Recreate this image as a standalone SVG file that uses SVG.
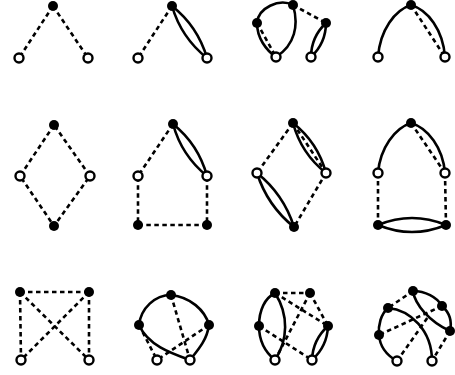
<svg xmlns="http://www.w3.org/2000/svg" width="455" height="375" viewBox="0 0 455 375">
<style>
.s{fill:none;stroke:#000;stroke-width:2.6}
.d{fill:none;stroke:#000;stroke-width:2.6;stroke-dasharray:4.5 3.5}
.b{fill:#000}
.o{fill:#fff;stroke:#000;stroke-width:2.4}
</style>
<rect width="455" height="375" fill="#fff"/>
<g id="connectors">
<path class="d" d="M53,6L19,58M53,6L88,58"/>
<path class="d" d="M172,6L138,58"/>
<path class="s" d="M172,6Q197.8,26.4 207,58M172,6Q181.2,37.6 207,58"/>
<path class="s" d="M293,5C279,-2 258,8 257,23M257,23C257,38 266,50 276,57M293,5C299,25 295,45 276,57"/>
<path class="d" d="M257,23L276,57M293,5L326,23"/>
<path class="s" d="M326,23Q325.8,43.2 311,57M326,23Q311.2,36.8 311,57"/>
<path class="s" d="M411,5C395,10 380,30 378,57M411,5C428,10 443,30 445,57"/>
<path class="d" d="M411,5L445,57"/>
<path class="d" d="M54,125L20,176L54,226L90,176Z"/>
<path class="d" d="M173,124L138,176L138,225L207,225L207,176"/>
<path class="s" d="M173,124Q198.4,144.5 207,176M173,124Q181.6,155.5 207,176"/>
<path class="d" d="M293,123L257,173M326,173L294,227M293,123L326,173"/>
<path class="s" d="M293,123Q317.8,142.5 326,173M293,123Q301.2,153.5 326,173"/>
<path class="s" d="M257,173Q283.7,194.4 294,227M257,173Q267.3,205.6 294,227"/>
<path class="s" d="M411,123C395,128 380,148 378,173M411,123C428,128 443,148 445,173"/>
<path class="d" d="M411,123L445,173M378,173L378,225M445,173L446,225"/>
<path class="s" d="M378,225Q412,211 446,225M378,225Q412,239 446,225"/>
<path class="d" d="M20,292L89,292M20,292L21,360M89,292L89,360M20,292L89,360M89,292L21,360"/>
<path class="s" d="M171,295C155,295 141,308 139,325M171,295C190,297 205,310 209,325M139,325C148,345 170,353 190,360M209,325C207,340 198,350 190,360"/>
<path class="d" d="M139,325L157,360M171,295L190,360M209,325L157,360"/>
<path class="s" d="M275,293C265,298 259,310 259,326M259,326C259,342 265,352 275,360M275,293C289,315 288,340 275,360"/>
<path class="d" d="M275,293L310,293M275,293L328,326M310,293L328,326M310,293L275,360M259,326L312,360"/>
<path class="s" d="M328,326Q327.2,346.4 312,360M328,326Q312.8,339.6 312,360"/>
<path class="s" d="M413,291C425,291 437,297 442,306M442,306C450,313 452,322 450,331M413,291C415,305 430,322 450,331"/>
<path class="s" d="M388,308C381,314 378,325 379,335M379,335C380,348 388,356 397,361M388,308C410,310 432,330 432,361"/>
<path class="d" d="M413,291L388,308M442,306L379,335M450,331L432,361M397,361L428,317"/>
</g>
<g id="n1a"><circle class="b" cx="53" cy="6" r="5"/></g>
<g id="n1b"><circle class="o" cx="19" cy="58" r="4.5"/></g>
<g id="n1c"><circle class="o" cx="88" cy="58" r="4.5"/></g>
<g id="n2a"><circle class="b" cx="172" cy="6" r="5"/></g>
<g id="n2b"><circle class="o" cx="138" cy="58" r="4.5"/></g>
<g id="n2c"><circle class="o" cx="207" cy="58" r="4.5"/></g>
<g id="n3a"><circle class="b" cx="293" cy="5" r="5"/></g>
<g id="n3b"><circle class="b" cx="257" cy="23" r="5"/></g>
<g id="n3c"><circle class="b" cx="326" cy="23" r="5"/></g>
<g id="n3d"><circle class="o" cx="276" cy="57" r="4.5"/></g>
<g id="n3e"><circle class="o" cx="311" cy="57" r="4.5"/></g>
<g id="n4a"><circle class="b" cx="411" cy="5" r="5"/></g>
<g id="n4b"><circle class="o" cx="378" cy="57" r="4.5"/></g>
<g id="n4c"><circle class="o" cx="445" cy="57" r="4.5"/></g>
<g id="n5a"><circle class="b" cx="54" cy="125" r="5"/></g>
<g id="n5b"><circle class="o" cx="20" cy="176" r="4.5"/></g>
<g id="n5c"><circle class="o" cx="90" cy="176" r="4.5"/></g>
<g id="n5d"><circle class="b" cx="54" cy="226" r="5"/></g>
<g id="n6a"><circle class="b" cx="173" cy="124" r="5"/></g>
<g id="n6b"><circle class="o" cx="138" cy="176" r="4.5"/></g>
<g id="n6c"><circle class="o" cx="207" cy="176" r="4.5"/></g>
<g id="n6d"><circle class="b" cx="138" cy="225" r="5"/></g>
<g id="n6e"><circle class="b" cx="207" cy="225" r="5"/></g>
<g id="n7a"><circle class="b" cx="293" cy="123" r="5"/></g>
<g id="n7b"><circle class="o" cx="257" cy="173" r="4.5"/></g>
<g id="n7c"><circle class="o" cx="326" cy="173" r="4.5"/></g>
<g id="n7d"><circle class="b" cx="294" cy="227" r="5"/></g>
<g id="n8a"><circle class="b" cx="411" cy="123" r="5"/></g>
<g id="n8b"><circle class="o" cx="378" cy="173" r="4.5"/></g>
<g id="n8c"><circle class="o" cx="445" cy="173" r="4.5"/></g>
<g id="n8d"><circle class="b" cx="378" cy="225" r="5"/></g>
<g id="n8e"><circle class="b" cx="446" cy="225" r="5"/></g>
<g id="n9a"><circle class="b" cx="20" cy="292" r="5"/></g>
<g id="n9b"><circle class="b" cx="89" cy="292" r="5"/></g>
<g id="n9c"><circle class="o" cx="21" cy="360" r="4.5"/></g>
<g id="n9d"><circle class="o" cx="89" cy="360" r="4.5"/></g>
<g id="n10a"><circle class="b" cx="171" cy="295" r="5"/></g>
<g id="n10b"><circle class="b" cx="139" cy="325" r="5"/></g>
<g id="n10c"><circle class="b" cx="209" cy="325" r="5"/></g>
<g id="n10d"><circle class="o" cx="157" cy="360" r="4.5"/></g>
<g id="n10e"><circle class="o" cx="190" cy="360" r="4.5"/></g>
<g id="n11a"><circle class="b" cx="275" cy="293" r="5"/></g>
<g id="n11b"><circle class="b" cx="310" cy="293" r="5"/></g>
<g id="n11c"><circle class="b" cx="259" cy="326" r="5"/></g>
<g id="n11d"><circle class="b" cx="328" cy="326" r="5"/></g>
<g id="n11e"><circle class="o" cx="275" cy="360" r="4.5"/></g>
<g id="n11f"><circle class="o" cx="312" cy="360" r="4.5"/></g>
<g id="n12a"><circle class="b" cx="413" cy="291" r="5"/></g>
<g id="n12b"><circle class="b" cx="442" cy="306" r="5"/></g>
<g id="n12c"><circle class="b" cx="450" cy="331" r="5"/></g>
<g id="n12d"><circle class="b" cx="388" cy="308" r="5"/></g>
<g id="n12e"><circle class="b" cx="379" cy="335" r="5"/></g>
<g id="n12f"><circle class="o" cx="397" cy="361" r="4.5"/></g>
<g id="n12g"><circle class="o" cx="432" cy="361" r="4.5"/></g>
</svg>
